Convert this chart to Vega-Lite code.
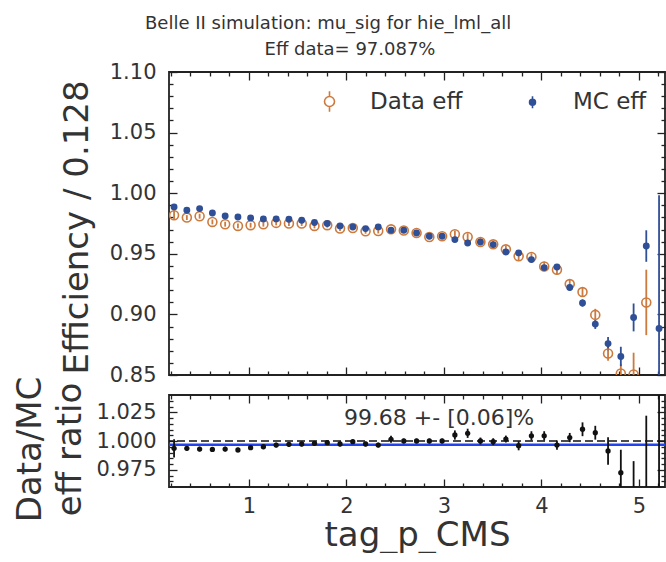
{
  "$schema": "https://vega.github.io/schema/vega-lite/v6.json",
  "padding": {"left": 12, "top": 15, "right": 0, "bottom": 0},
  "background": "white",
  "title": {"text": "Belle II simulation: mu_sig for hie_lml_all", "font": "DejaVu Sans", "fontSize": 18, "fontWeight": "normal", "color": "#333333", "anchor": "middle", "dx": -12, "offset": 7},
  "resolve": {"legend": {"stroke": "independent", "fill": "independent", "size": "independent"}},
  "config": {
    "view": {"stroke": "#222222", "strokeWidth": 1.8},
    "axis": {"domain": false, "grid": false, "minExtent": 0, "labelFont": "DejaVu Sans", "labelFontSize": 21, "labelColor": "#333333", "titleFont": "DejaVu Sans", "titleFontSize": 34, "titleFontWeight": "normal", "titleColor": "#333333", "tickColor": "#222222", "tickWidth": 1.3},
    "legend": {"labelFont": "DejaVu Sans", "labelFontSize": 23, "labelColor": "#333333", "symbolStrokeWidth": 1.6, "labelOffset": 29, "columnPadding": 58, "offset": 18},
    "text": {"font": "DejaVu Sans"}
  },
  "datasets": {
    "eff": [
      {"x": 0.232, "series": "Data eff", "eff": 0.9818, "err": 0.004},
      {"x": 0.363, "series": "Data eff", "eff": 0.9799, "err": 0.002},
      {"x": 0.494, "series": "Data eff", "eff": 0.9810, "err": 0.002},
      {"x": 0.625, "series": "Data eff", "eff": 0.9763, "err": 0.002},
      {"x": 0.756, "series": "Data eff", "eff": 0.9744, "err": 0.002},
      {"x": 0.887, "series": "Data eff", "eff": 0.9730, "err": 0.002},
      {"x": 1.017, "series": "Data eff", "eff": 0.9736, "err": 0.002},
      {"x": 1.148, "series": "Data eff", "eff": 0.9744, "err": 0.002},
      {"x": 1.279, "series": "Data eff", "eff": 0.9755, "err": 0.002},
      {"x": 1.410, "series": "Data eff", "eff": 0.9750, "err": 0.002},
      {"x": 1.541, "series": "Data eff", "eff": 0.9750, "err": 0.002},
      {"x": 1.672, "series": "Data eff", "eff": 0.9730, "err": 0.002},
      {"x": 1.803, "series": "Data eff", "eff": 0.9736, "err": 0.002},
      {"x": 1.934, "series": "Data eff", "eff": 0.9708, "err": 0.002},
      {"x": 2.065, "series": "Data eff", "eff": 0.9713, "err": 0.002},
      {"x": 2.196, "series": "Data eff", "eff": 0.9686, "err": 0.002},
      {"x": 2.326, "series": "Data eff", "eff": 0.9688, "err": 0.002},
      {"x": 2.457, "series": "Data eff", "eff": 0.9702, "err": 0.002},
      {"x": 2.588, "series": "Data eff", "eff": 0.9692, "err": 0.002},
      {"x": 2.719, "series": "Data eff", "eff": 0.9672, "err": 0.002},
      {"x": 2.850, "series": "Data eff", "eff": 0.9639, "err": 0.002},
      {"x": 2.981, "series": "Data eff", "eff": 0.9645, "err": 0.002},
      {"x": 3.112, "series": "Data eff", "eff": 0.9661, "err": 0.003},
      {"x": 3.243, "series": "Data eff", "eff": 0.9639, "err": 0.003},
      {"x": 3.374, "series": "Data eff", "eff": 0.9598, "err": 0.003},
      {"x": 3.505, "series": "Data eff", "eff": 0.9578, "err": 0.003},
      {"x": 3.635, "series": "Data eff", "eff": 0.9537, "err": 0.003},
      {"x": 3.766, "series": "Data eff", "eff": 0.9479, "err": 0.003},
      {"x": 3.897, "series": "Data eff", "eff": 0.9474, "err": 0.003},
      {"x": 4.028, "series": "Data eff", "eff": 0.9395, "err": 0.004},
      {"x": 4.159, "series": "Data eff", "eff": 0.9369, "err": 0.004},
      {"x": 4.290, "series": "Data eff", "eff": 0.9250, "err": 0.004},
      {"x": 4.421, "series": "Data eff", "eff": 0.9184, "err": 0.004},
      {"x": 4.552, "series": "Data eff", "eff": 0.8996, "err": 0.005},
      {"x": 4.683, "series": "Data eff", "eff": 0.8678, "err": 0.006},
      {"x": 4.814, "series": "Data eff", "eff": 0.8512, "err": 0.008},
      {"x": 4.945, "series": "Data eff", "eff": 0.8504, "err": 0.018},
      {"x": 5.075, "series": "Data eff", "eff": 0.9099, "err": 0.027},
      {"x": 0.232, "series": "MC eff", "eff": 0.9887, "err": 0.0015},
      {"x": 0.363, "series": "MC eff", "eff": 0.9859, "err": 0.001},
      {"x": 0.494, "series": "MC eff", "eff": 0.9873, "err": 0.001},
      {"x": 0.625, "series": "MC eff", "eff": 0.9837, "err": 0.001},
      {"x": 0.756, "series": "MC eff", "eff": 0.9812, "err": 0.001},
      {"x": 0.887, "series": "MC eff", "eff": 0.9804, "err": 0.001},
      {"x": 1.017, "series": "MC eff", "eff": 0.9796, "err": 0.001},
      {"x": 1.148, "series": "MC eff", "eff": 0.9788, "err": 0.001},
      {"x": 1.279, "series": "MC eff", "eff": 0.9788, "err": 0.001},
      {"x": 1.410, "series": "MC eff", "eff": 0.9785, "err": 0.001},
      {"x": 1.541, "series": "MC eff", "eff": 0.9777, "err": 0.001},
      {"x": 1.672, "series": "MC eff", "eff": 0.9758, "err": 0.001},
      {"x": 1.803, "series": "MC eff", "eff": 0.9750, "err": 0.001},
      {"x": 1.934, "series": "MC eff", "eff": 0.9730, "err": 0.001},
      {"x": 2.065, "series": "MC eff", "eff": 0.9722, "err": 0.001},
      {"x": 2.196, "series": "MC eff", "eff": 0.9708, "err": 0.001},
      {"x": 2.326, "series": "MC eff", "eff": 0.9722, "err": 0.001},
      {"x": 2.457, "series": "MC eff", "eff": 0.9694, "err": 0.001},
      {"x": 2.588, "series": "MC eff", "eff": 0.9694, "err": 0.001},
      {"x": 2.719, "series": "MC eff", "eff": 0.9672, "err": 0.001},
      {"x": 2.850, "series": "MC eff", "eff": 0.9645, "err": 0.001},
      {"x": 2.981, "series": "MC eff", "eff": 0.9645, "err": 0.001},
      {"x": 3.112, "series": "MC eff", "eff": 0.9617, "err": 0.0015},
      {"x": 3.243, "series": "MC eff", "eff": 0.9589, "err": 0.0015},
      {"x": 3.374, "series": "MC eff", "eff": 0.9598, "err": 0.0015},
      {"x": 3.505, "series": "MC eff", "eff": 0.9576, "err": 0.0015},
      {"x": 3.635, "series": "MC eff", "eff": 0.9515, "err": 0.0015},
      {"x": 3.766, "series": "MC eff", "eff": 0.9507, "err": 0.0015},
      {"x": 3.897, "series": "MC eff", "eff": 0.9452, "err": 0.002},
      {"x": 4.028, "series": "MC eff", "eff": 0.9386, "err": 0.002},
      {"x": 4.159, "series": "MC eff", "eff": 0.9391, "err": 0.002},
      {"x": 4.290, "series": "MC eff", "eff": 0.9222, "err": 0.0025},
      {"x": 4.421, "series": "MC eff", "eff": 0.9094, "err": 0.003},
      {"x": 4.552, "series": "MC eff", "eff": 0.8920, "err": 0.004},
      {"x": 4.683, "series": "MC eff", "eff": 0.8759, "err": 0.0055},
      {"x": 4.814, "series": "MC eff", "eff": 0.8653, "err": 0.008},
      {"x": 4.945, "series": "MC eff", "eff": 0.8975, "err": 0.0115},
      {"x": 5.075, "series": "MC eff", "eff": 0.9564, "err": 0.013},
      {"x": 5.206, "series": "MC eff", "eff": 0.8884, "err": 0.11}
    ],
    "ratio": [
      {"x": 0.232, "ratio": 0.9936, "err": 0.008},
      {"x": 0.363, "ratio": 0.9936, "err": 0.002},
      {"x": 0.494, "ratio": 0.9930, "err": 0.002},
      {"x": 0.625, "ratio": 0.9927, "err": 0.002},
      {"x": 0.756, "ratio": 0.9930, "err": 0.002},
      {"x": 0.887, "ratio": 0.9922, "err": 0.002},
      {"x": 1.017, "ratio": 0.9942, "err": 0.002},
      {"x": 1.148, "ratio": 0.9950, "err": 0.002},
      {"x": 1.279, "ratio": 0.9965, "err": 0.002},
      {"x": 1.410, "ratio": 0.9971, "err": 0.002},
      {"x": 1.541, "ratio": 0.9974, "err": 0.002},
      {"x": 1.672, "ratio": 0.9980, "err": 0.002},
      {"x": 1.803, "ratio": 0.9985, "err": 0.002},
      {"x": 1.934, "ratio": 0.9974, "err": 0.002},
      {"x": 2.065, "ratio": 0.9994, "err": 0.002},
      {"x": 2.196, "ratio": 0.9974, "err": 0.002},
      {"x": 2.326, "ratio": 0.9965, "err": 0.002},
      {"x": 2.457, "ratio": 1.0015, "err": 0.003},
      {"x": 2.588, "ratio": 1.0000, "err": 0.002},
      {"x": 2.719, "ratio": 1.0000, "err": 0.002},
      {"x": 2.850, "ratio": 1.0000, "err": 0.002},
      {"x": 2.981, "ratio": 1.0000, "err": 0.002},
      {"x": 3.112, "ratio": 1.0052, "err": 0.004},
      {"x": 3.243, "ratio": 1.0067, "err": 0.004},
      {"x": 3.374, "ratio": 1.0000, "err": 0.003},
      {"x": 3.505, "ratio": 0.9994, "err": 0.003},
      {"x": 3.635, "ratio": 1.0017, "err": 0.003},
      {"x": 3.766, "ratio": 0.9959, "err": 0.004},
      {"x": 3.897, "ratio": 1.0045, "err": 0.004},
      {"x": 4.028, "ratio": 1.0045, "err": 0.004},
      {"x": 4.159, "ratio": 0.9965, "err": 0.004},
      {"x": 4.290, "ratio": 1.0030, "err": 0.004},
      {"x": 4.421, "ratio": 1.0102, "err": 0.006},
      {"x": 4.552, "ratio": 1.0072, "err": 0.006},
      {"x": 4.683, "ratio": 0.9913, "err": 0.012},
      {"x": 4.814, "ratio": 0.9724, "err": 0.02},
      {"x": 4.945, "ratio": 0.9475, "err": 0.035},
      {"x": 5.075, "ratio": 0.9510, "err": 0.071},
      {"x": 5.206, "ratio": 0.9300, "err": 0.2}
    ],
    "ref": [{"one": 1, "fit": 0.9968, "label": "99.68 +- [0.06]%", "lx": 2.95, "ly": 1.014}]
  },
  "spacing": 20,
  "bounds": "flush",
  "vconcat": [
    {
      "width": 496,
      "height": 303,
      "title": {"text": "Eff data= 97.087%", "font": "DejaVu Sans", "fontSize": 18, "fontWeight": "normal", "color": "#333333", "anchor": "middle", "dx": -67, "baseline": "alphabetic", "offset": -12},
      "data": {"name": "eff"},
      "resolve": {"axis": {"x": "independent", "y": "independent"}},
      "layer": [
        {
          "mark": {"type": "errorbar", "thickness": 1.8, "clip": true},
          "encoding": {
            "x": {"field": "x", "type": "quantitative", "scale": {"domain": [0.18, 5.267], "nice": false, "zero": false}, "axis": null},
            "y": {"field": "eff", "type": "quantitative", "scale": {"domain": [0.85, 1.10], "nice": false, "zero": false}, "axis": null},
            "yError": {"field": "err"},
            "color": {"field": "series", "type": "nominal", "scale": {"domain": ["Data eff", "MC eff"], "range": ["#cc7a3e", "#2f4f96"]}, "legend": null}
          }
        },
        {
          "transform": [{"filter": "datum.series == 'Data eff'"}],
          "mark": {"type": "point", "clip": true, "opacity": 1, "strokeWidth": 1.6},
          "encoding": {
            "x": {"field": "x", "type": "quantitative",
                  "axis": {"orient": "bottom", "title": null, "labels": false, "values": [0.2,0.4,0.6,0.8,1,1.2,1.4,1.6,1.8,2,2.2,2.4,2.6,2.8,3,3.2,3.4,3.6,3.8,4,4.2,4.4,4.6,4.8,5,5.2],
                           "tickSize": {"condition": {"test": "abs(datum.value - round(datum.value)) < 0.001", "value": -8}, "value": -4}}},
            "y": {"field": "eff", "type": "quantitative",
                  "axis": {"orient": "left", "title": "Efficiency / 0.128", "titlePadding": 15, "titleY": 155, "labelPadding": 21,
                           "values": [0.85,0.86,0.87,0.88,0.89,0.9,0.91,0.92,0.93,0.94,0.95,0.96,0.97,0.98,0.99,1,1.01,1.02,1.03,1.04,1.05,1.06,1.07,1.08,1.09,1.1],
                           "labelExpr": "round(datum.value*100) % 5 == 0 ? format(datum.value, '.2f') : ''",
                           "tickSize": {"condition": {"test": "round(datum.value*100) % 5 == 0", "value": -8}, "value": -4}}},
            "stroke": {"field": "series", "type": "nominal", "scale": {"domain": ["Data eff", "MC eff"], "range": ["#cc7a3e", "#2f4f96"]},
                       "legend": {"title": null, "orient": "top-right", "direction": "horizontal", "symbolType": "M0,-2.3L0,-1.12M-1.12,0A1.12,1.12,0,1,1,1.12,0A1.12,1.12,0,1,1,-1.12,0ZM0,1.12L0,2.3"}},
            "fill": {"field": "series", "type": "nominal", "scale": {"domain": ["Data eff", "MC eff"], "range": ["transparent", "#2f4f96"]},
                     "legend": {"title": null, "orient": "top-right", "direction": "horizontal", "symbolType": "M0,-2.3L0,-1.12M-1.12,0A1.12,1.12,0,1,1,1.12,0A1.12,1.12,0,1,1,-1.12,0ZM0,1.12L0,2.3"}},
            "size": {"field": "series", "type": "nominal", "scale": {"domain": ["Data eff", "MC eff"], "range": [80, 28]},
                     "legend": {"title": null, "orient": "top-right", "direction": "horizontal", "symbolType": "M0,-2.3L0,-1.12M-1.12,0A1.12,1.12,0,1,1,1.12,0A1.12,1.12,0,1,1,-1.12,0ZM0,1.12L0,2.3"}}
          }
        },
        {
          "transform": [{"filter": "datum.series == 'MC eff'"}],
          "mark": {"type": "point", "clip": true, "opacity": 1, "strokeWidth": 1.6},
          "encoding": {
            "x": {"field": "x", "type": "quantitative",
                  "axis": {"orient": "top", "title": null, "labels": false, "values": [0.2,0.4,0.6,0.8,1,1.2,1.4,1.6,1.8,2,2.2,2.4,2.6,2.8,3,3.2,3.4,3.6,3.8,4,4.2,4.4,4.6,4.8,5,5.2],
                           "tickSize": {"condition": {"test": "abs(datum.value - round(datum.value)) < 0.001", "value": -8}, "value": -4}}},
            "y": {"field": "eff", "type": "quantitative",
                  "axis": {"orient": "right", "title": null, "labels": false, "values": [0.85,0.86,0.87,0.88,0.89,0.9,0.91,0.92,0.93,0.94,0.95,0.96,0.97,0.98,0.99,1,1.01,1.02,1.03,1.04,1.05,1.06,1.07,1.08,1.09,1.1],
                           "tickSize": {"condition": {"test": "round(datum.value*100) % 5 == 0", "value": -8}, "value": -4}}},
            "stroke": {"field": "series", "type": "nominal"},
            "fill": {"field": "series", "type": "nominal"},
            "size": {"field": "series", "type": "nominal"}
          }
        }
      ]
    },
    {
      "width": 496,
      "height": 92,
      "resolve": {"axis": {"x": "independent", "y": "independent"}},
      "layer": [
        {
          "data": {"name": "ref"},
          "mark": {"type": "rule", "strokeDash": [8, 4], "color": "#111111", "strokeWidth": 1.6},
          "encoding": {"y": {"field": "one", "type": "quantitative", "axis": null}}
        },
        {
          "data": {"name": "ref"},
          "mark": {"type": "rule", "color": "#2244ee", "strokeWidth": 2.5},
          "encoding": {"y": {"field": "fit", "type": "quantitative", "axis": null}}
        },
        {
          "data": {"name": "ratio"},
          "mark": {"type": "errorbar", "thickness": 1.8, "clip": true, "color": "#111111"},
          "encoding": {
            "x": {"field": "x", "type": "quantitative", "scale": {"domain": [0.18, 5.267], "nice": false, "zero": false}, "axis": null},
            "y": {"field": "ratio", "type": "quantitative", "scale": {"domain": [0.96, 1.04], "nice": false, "zero": false}, "axis": null},
            "yError": {"field": "err"}
          }
        },
        {
          "data": {"name": "ratio"},
          "mark": {"type": "point", "filled": true, "clip": true, "opacity": 1, "size": 28, "color": "#111111"},
          "encoding": {
            "x": {"field": "x", "type": "quantitative",
                  "axis": {"orient": "bottom", "title": "tag_p_CMS", "titlePadding": 2, "labelPadding": 16, "values": [0.2,0.4,0.6,0.8,1,1.2,1.4,1.6,1.8,2,2.2,2.4,2.6,2.8,3,3.2,3.4,3.6,3.8,4,4.2,4.4,4.6,4.8,5,5.2],
                           "labelExpr": "abs(datum.value - round(datum.value)) < 0.001 ? format(datum.value, 'd') : ''",
                           "tickSize": {"condition": {"test": "abs(datum.value - round(datum.value)) < 0.001", "value": -8}, "value": -4}}},
            "y": {"field": "ratio", "type": "quantitative",
                  "axis": {"orient": "left", "title": ["Data/MC", "eff ratio"], "titleLineHeight": 40, "titlePadding": 8, "titleY": 54, "labelPadding": 21,
                           "values": [0.965,0.97,0.975,0.98,0.985,0.99,0.995,1,1.005,1.01,1.015,1.02,1.025,1.03,1.035],
                           "labelExpr": "abs(datum.value*40 - round(datum.value*40)) < 0.001 ? format(datum.value, '.3f') : ''",
                           "tickSize": {"condition": {"test": "abs(datum.value*40 - round(datum.value*40)) < 0.001", "value": -8}, "value": -4}}}
          }
        },
        {
          "data": {"name": "ratio"},
          "mark": {"type": "point", "opacity": 0},
          "encoding": {
            "x": {"field": "x", "type": "quantitative",
                  "axis": {"orient": "top", "title": null, "labels": false, "values": [0.2,0.4,0.6,0.8,1,1.2,1.4,1.6,1.8,2,2.2,2.4,2.6,2.8,3,3.2,3.4,3.6,3.8,4,4.2,4.4,4.6,4.8,5,5.2],
                           "tickSize": {"condition": {"test": "abs(datum.value - round(datum.value)) < 0.001", "value": -8}, "value": -4}}},
            "y": {"field": "ratio", "type": "quantitative",
                  "axis": {"orient": "right", "title": null, "labels": false, "values": [0.965,0.97,0.975,0.98,0.985,0.99,0.995,1,1.005,1.01,1.015,1.02,1.025,1.03,1.035],
                           "tickSize": {"condition": {"test": "abs(datum.value*40 - round(datum.value*40)) < 0.001", "value": -8}, "value": -4}}}
          }
        },
        {
          "data": {"name": "ref"},
          "mark": {"type": "text", "fontSize": 22, "color": "#333333", "baseline": "alphabetic", "align": "center"},
          "encoding": {"x": {"field": "lx", "type": "quantitative", "axis": null}, "y": {"field": "ly", "type": "quantitative", "axis": null}, "text": {"field": "label"}}
        }
      ]
    }
  ]
}
